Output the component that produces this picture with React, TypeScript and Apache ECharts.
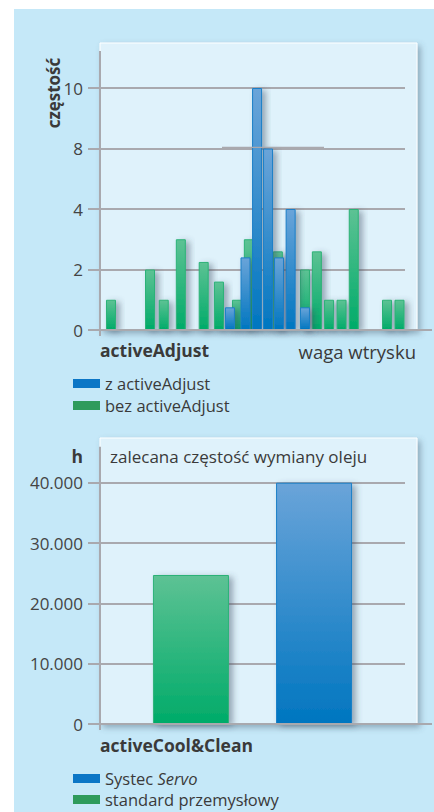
import React, { useEffect, useRef } from "react";
import * as echarts from "echarts";

// ---- Chart 1 data: frequency vs shot weight ----
const freqTickLabels = [0, 2, 4, 8, 10];
const withoutAdjustWeight = [3.6, 16.4, 20.9, 26.5, 34.0, 39.0, 44.9, 48.8, 58.3, 67.2, 71.1, 75.1, 79.2, 83.2, 94.1, 98.2];
const withoutAdjustFreq = [1, 2, 1, 3, 2.25, 1.6, 1, 3, 2.6, 2, 2.6, 1, 1, 4, 1, 1];
const withAdjustWeight = [42.6, 47.7, 51.5, 55.1, 58.7, 62.5, 67.2];
const withAdjustFreq = [0.75, 2.4, 10, 8, 2.4, 4, 0.75];

// ---- Chart 2 data: oil change interval ----
const oilCategories = ["activeCool&Clean"];
const standardHours = [24700];
const systecHours = [40000];
const hourTicks = [0, 10000, 20000, 30000, 40000];

const FONT = "Open Sans";
const GRID_LINE = "#a9a9ae";
const TEXT = "#3a3a3a";

// piecewise-linear mapping of a frequency onto the evenly spaced tick labels
function freqToAxis(v: number): number {
  for (let i = 0; i < freqTickLabels.length - 1; i++) {
    const a = freqTickLabels[i];
    const b = freqTickLabels[i + 1];
    if (v <= b) return i + (v - a) / (b - a);
  }
  return freqTickLabels.length - 1;
}

const G1 = { left: 100, top: 88, width: 305, height: 242 };
const G2 = { left: 100, top: 482.7, width: 305, height: 241.3 };

const greenGrad = () =>
  new echarts.graphic.LinearGradient(0, 0, 0, 1, [
    { offset: 0, color: "#5dc294" },
    { offset: 1, color: "#00ab69" },
  ]);
const blueGrad = () =>
  new echarts.graphic.LinearGradient(0, 0, 0, 1, [
    { offset: 0, color: "#6aa4d9" },
    { offset: 1, color: "#0076c0" },
  ]);

const barShadow = {
  shadowBlur: 6,
  shadowOffsetX: 4,
  shadowOffsetY: 2,
  shadowColor: "rgba(60,75,95,0.45)",
};

export default function App() {
  const ref = useRef<HTMLDivElement>(null);
  useEffect(() => {
    if (!ref.current) return;
    const chart = echarts.init(ref.current, undefined, { renderer: "svg" });
    const g1Bottom = G1.top + G1.height;
    const g2Bottom = G2.top + G2.height;
    const line = (x1: number, y1: number, x2: number, y2: number, w = 2) => ({
      type: "line",
      z: 10,
      shape: { x1, y1, x2, y2 },
      style: { stroke: GRID_LINE, lineWidth: w },
    });
    const text = (x: number, y: number, t: string, opts: any = {}) => ({
      type: "text",
      z: 10,
      x,
      y,
      rotation: opts.rotation || 0,
      style: {
        text: t,
        fill: TEXT,
        fontFamily: FONT,
        fontSize: opts.fontSize || 17.5,
        fontWeight: opts.bold ? "bold" : "normal",
        align: opts.align || "left",
        verticalAlign: "middle",
      },
    });
    const plotBg = (y: number, h: number) => ({
      type: "rect",
      z: -5,
      shape: { x: 100, y, width: 317, height: h },
      style: {
        fill: "#dff2fb",
        stroke: "#ffffff",
        lineWidth: 1,
        shadowBlur: 6,
        shadowOffsetX: 3,
        shadowOffsetY: 3,
        shadowColor: "rgba(70,90,110,0.45)",
      },
    });
    const legendText = {
      fontFamily: FONT,
      fontSize: 16.5,
      color: TEXT,
    };

    const option: any = {
      animation: false,
      graphic: [
        { type: "rect", z: -10, shape: { x: 14, y: 9, width: 420, height: 803 }, style: { fill: "#c5e8f8" } },
        plotBg(43, g1Bottom - 43),
        plotBg(438, g2Bottom - 438),
        line(100, 51, 100, g1Bottom + 6),
        line(88, g1Bottom, 432, g1Bottom),
        line(222, 147.3, 324, 147.3, 1.3),
        line(100, 446.7, 100, g2Bottom + 6),
        line(88, g2Bottom, 432, g2Bottom),
        text(53, 93, "częstość", { bold: true, fontSize: 17, rotation: Math.PI / 2, align: "center" }),
        text(100, 350, "activeAdjust", { bold: true }),
        text(416, 351, "waga wtrysku", { fontSize: 18.5, align: "right" }),
        text(83, 456, "h", { bold: true, align: "right" }),
        text(110, 456, "zalecana częstość wymiany oleju", { fontSize: 17 }),
        text(100, 745, "activeCool&Clean", { bold: true }),
      ],
      legend: [
        {
          left: 68,
          top: 370,
          height: 60,
          orient: "vertical",
          selectedMode: false,
          icon: "rect",
          itemWidth: 27,
          itemHeight: 9,
          itemGap: 5,
          textStyle: legendText,
          data: [
            { name: "z activeAdjust", itemStyle: { color: "#0b76c6", borderWidth: 0, shadowBlur: 0 } },
            { name: "bez activeAdjust", itemStyle: { color: "#2e9b5c", borderWidth: 0, shadowBlur: 0 } },
          ],
        },
        {
          left: 68,
          top: 765,
          height: 60,
          orient: "vertical",
          selectedMode: false,
          icon: "rect",
          itemWidth: 27,
          itemHeight: 9,
          itemGap: 4,
          formatter: (n: string) => (n === "Systec Servo" ? "Systec {i|Servo}" : n),
          textStyle: {
            ...legendText,
            rich: { i: { ...legendText, fontStyle: "italic" } },
          },
          data: [
            { name: "Systec Servo", itemStyle: { color: "#0b76c6", borderWidth: 0, shadowBlur: 0 } },
            { name: "standard przemysłowy", itemStyle: { color: "#2e9b5c", borderWidth: 0, shadowBlur: 0 } },
          ],
        },
      ],
      grid: [
        { ...G1, containLabel: false },
        { ...G2, containLabel: false },
      ],
      xAxis: [
        {
          gridIndex: 0,
          type: "value",
          min: 0,
          max: 100,
          axisLine: { show: false },
          axisTick: { show: false },
          axisLabel: { show: false },
          splitLine: { show: false },
        },
        {
          gridIndex: 1,
          type: "category",
          data: oilCategories,
          axisLine: { show: false },
          axisTick: { show: false },
          axisLabel: { show: false },
          splitLine: { show: false },
        },
      ],
      yAxis: [
        {
          gridIndex: 0,
          type: "value",
          min: 0,
          max: freqTickLabels.length - 1,
          interval: 1,
          axisLine: { show: false },
          axisTick: { show: true, length: 12, lineStyle: { color: GRID_LINE, width: 2 } },
          splitLine: { lineStyle: { color: GRID_LINE, width: 2 } },
          axisLabel: {
            margin: 17,
            padding: [0, 0, 10, 0],
            fontFamily: FONT,
            fontSize: 17,
            color: "#444",
            formatter: (v: number) => String(freqTickLabels[Math.round(v)]),
          },
        },
        {
          gridIndex: 1,
          type: "value",
          min: hourTicks[0],
          max: hourTicks[hourTicks.length - 1],
          interval: 10000,
          axisLine: { show: false },
          axisTick: { show: true, length: 12, lineStyle: { color: GRID_LINE, width: 2 } },
          splitLine: { lineStyle: { color: GRID_LINE, width: 2 } },
          axisLabel: {
            margin: 17,
            padding: [0, 0, 10, 0],
            fontFamily: FONT,
            fontSize: 17,
            color: "#444",
            formatter: (v: number) => (v === 0 ? "0" : v.toLocaleString("de-DE")),
          },
        },
      ],
      series: [
        {
          name: "bez activeAdjust",
          type: "bar",
          xAxisIndex: 0,
          yAxisIndex: 0,
          barWidth: 10,
          barGap: "-100%",
          data: withoutAdjustWeight.map((x, i) => [x, freqToAxis(withoutAdjustFreq[i])]),
          itemStyle: { color: greenGrad(), borderColor: "#2cb277", borderWidth: 1, ...barShadow },
        },
        {
          name: "z activeAdjust",
          type: "bar",
          xAxisIndex: 0,
          yAxisIndex: 0,
          barWidth: 10,
          barGap: "-100%",
          data: withAdjustWeight.map((x, i) => [x, freqToAxis(withAdjustFreq[i])]),
          itemStyle: { color: blueGrad(), borderColor: "#1a7fc8", borderWidth: 1, ...barShadow },
        },
        {
          name: "standard przemysłowy",
          type: "bar",
          xAxisIndex: 1,
          yAxisIndex: 1,
          barWidth: 76,
          barGap: "62%",
          data: standardHours,
          itemStyle: { color: greenGrad(), borderColor: "#2cb277", borderWidth: 1, ...barShadow },
        },
        {
          name: "Systec Servo",
          type: "bar",
          xAxisIndex: 1,
          yAxisIndex: 1,
          barWidth: 76,
          barGap: "62%",
          data: systecHours,
          itemStyle: { color: blueGrad(), borderColor: "#1a7fc8", borderWidth: 1, ...barShadow },
        },
      ],
    };
    chart.setOption(option);
    return () => chart.dispose();
  }, []);
  return (
    <div
      ref={ref}
      style={{ position: "absolute", left: 0, top: 0, width: 434, height: 812, background: "#ffffff" }}
    />
  );
}
